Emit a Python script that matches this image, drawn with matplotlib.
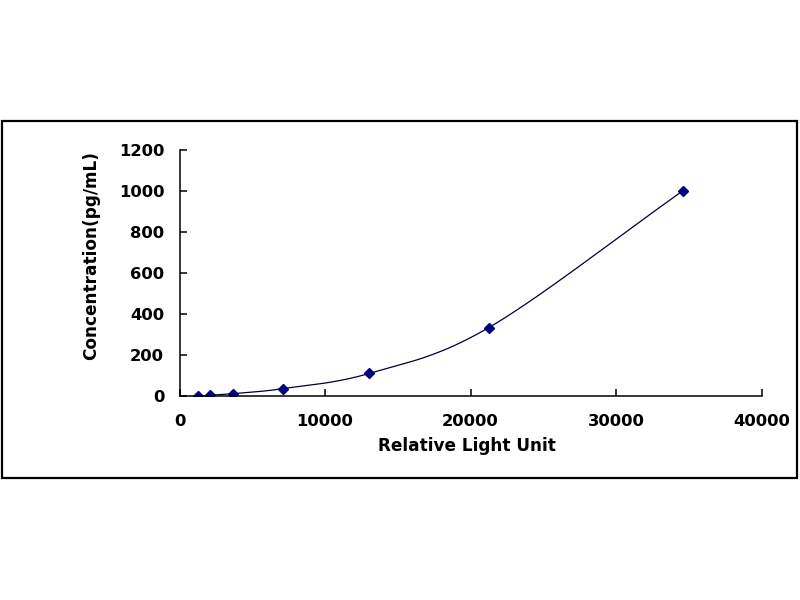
import numpy as np
import matplotlib
matplotlib.use("Agg")
import matplotlib.pyplot as plt
from matplotlib.patches import Rectangle

rlu = [1250, 2080, 3700, 7120, 13050, 21240, 34600]
conc = [0, 4.1, 12.3, 37.0, 111.1, 333.3, 1000]
xticks = [0, 10000, 20000, 30000, 40000]
yticks = [0, 200, 400, 600, 800, 1000, 1200]

plt.rcParams['font.family'] = ['DejaVu Sans']

def smooth(xs, ys, n=40):
    xs = np.asarray(xs, float); ys = np.asarray(ys, float)
    px = np.concatenate([[2*xs[0]-xs[1]], xs, [2*xs[-1]-xs[-2]]])
    py = np.concatenate([[2*ys[0]-ys[1]], ys, [2*ys[-1]-ys[-2]]])
    outx, outy = [], []
    t = np.linspace(0, 1, n)
    for i in range(1, len(px)-2):
        p0 = np.array([px[i], py[i]]); p3 = np.array([px[i+1], py[i+1]])
        c1 = p0 + (np.array([px[i+1], py[i+1]]) - np.array([px[i-1], py[i-1]])) / 6
        c2 = p3 - (np.array([px[i+2], py[i+2]]) - np.array([px[i], py[i]])) / 6
        b = ((1-t)**3)[:, None]*p0 + (3*(1-t)**2*t)[:, None]*c1 + (3*(1-t)*t**2)[:, None]*c2 + (t**3)[:, None]*p3
        outx.extend(b[:, 0]); outy.extend(b[:, 1])
    return np.array(outx), np.array(outy)

fig = plt.figure(figsize=(8, 6), dpi=100)
fig.patches.append(Rectangle((2/800, 1-478/600), 795/800, 357/600, transform=fig.transFigure,
                             fill=False, edgecolor='black', linewidth=1.6))
ax = fig.add_axes([179.5/800, 1-396.2/600, (761.7-179.5)/800, (396.2-149.5)/600])

sx, sy = smooth(rlu, conc)
ax.plot(sx, sy, color='#000033', linewidth=0.9)
ax.plot(rlu, conc, linestyle='none', marker='D', markersize=5.2, color='#000080')

ax.set_xlim(0, 40000)
ax.set_ylim(0, 1200)
ax.set_xticks(xticks)
ax.set_yticks(yticks)
ax.set_xticklabels([str(v) for v in xticks], fontsize=11.8, fontweight='bold')
ax.set_yticklabels([str(v) for v in yticks], fontsize=11.8, fontweight='bold')
ax.tick_params(direction='in', length=5, width=1.1, color='black')
ax.tick_params(axis='y', pad=11)
ax.tick_params(axis='x', pad=12.5)
for s in ['top', 'right']:
    ax.spines[s].set_visible(False)
for s in ['left', 'bottom']:
    ax.spines[s].set_linewidth(1.1)
ax.set_xlabel('Relative Light Unit', fontsize=12.2, fontweight='bold')
ax.set_ylabel('Concentration(pg/mL)', fontsize=12.2, fontweight='bold')
ax.xaxis.set_label_coords(0.494, -0.165)
ax.yaxis.set_label_coords(-0.137, 0.572)
fig.savefig('out.png', dpi=100)
